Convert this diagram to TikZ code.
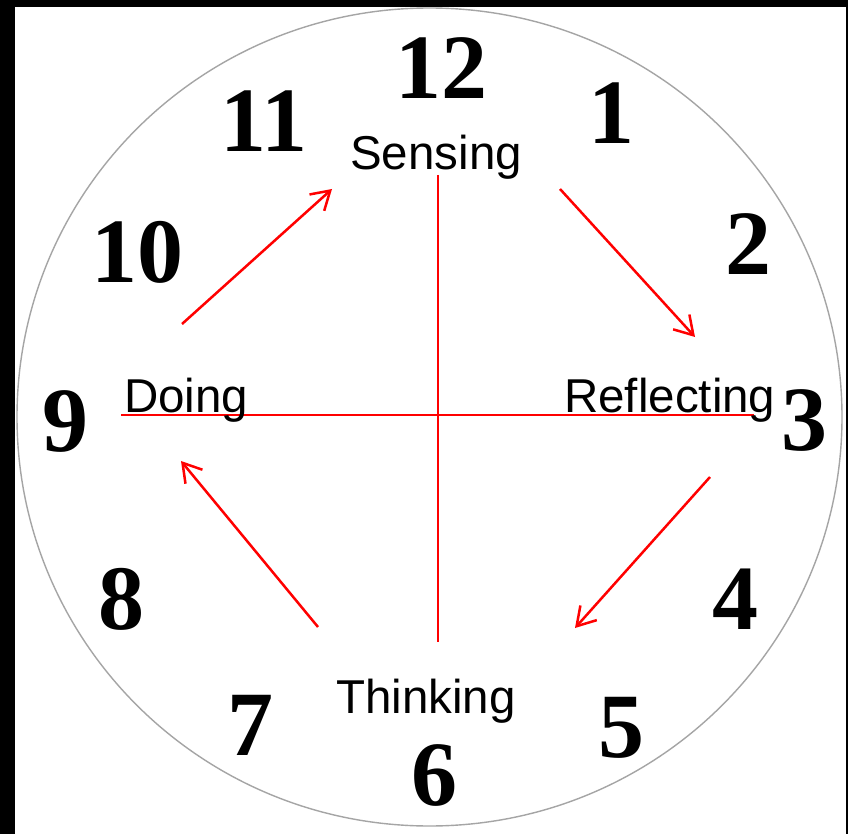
\documentclass[tikz,border=0pt]{standalone}
\usepackage{fontspec}
\setmainfont{Liberation Sans}
\newfontfamily\numfont{Liberation Serif}
\usetikzlibrary{arrows.meta}
\tikzset{
  num/.style={inner sep=0pt, font=\numfont\bfseries\fontsize{92}{92}\selectfont},
  lbl/.style={inner sep=0pt, anchor=base west, font=\fontsize{47.5}{47.5}\selectfont},
  axis/.style={draw=red, line width=2.5pt},
  flow/.style={draw=red, line width=2.5pt, -{Straight Barb[length=18pt,width=22pt,line width=2.5pt]}}
}
\begin{document}
\begin{tikzpicture}[x=1pt,y=-1pt]
\useasboundingbox (0,0) rectangle (848,834);
\fill[black] (0,0) rectangle (848,834);
\fill[white] (15,7) rectangle (846,834);
\draw[draw={rgb,255:red,165;green,165;blue,165}, line width=1.4pt] (429.5,417) ellipse [x radius=412.5, y radius=409];
% numerals
\node[num] (n12) at (441,68) {12};
\node[num] (n1) at (611,113) {1};
\node[num] (n2) at (748,244) {2};
\node[num] (n3) at (804,420) {3};
\node[num] (n4) at (735,599) {4};
\node[num] (n5) at (621,728) {5};
\node[num] (n6) at (434,775) {6};
\node[num] (n7) at (250,725) {7};
\node[num] (n8) at (121,599) {8};
\node[num] (n9) at (65,421) {9};
\node[num] (n10) at (137,252) {10};
\node[num] (n11) at (264,121) {11};
% axes
\coordinate (hl) at (121,415);
\coordinate (hr) at (754,415);
\coordinate (vt) at (438,175);
\coordinate (vb) at (438,642);
\draw[axis] (hl) -- (hr);
\draw[axis] (vt) -- (vb);
% labels
\node[lbl] (sensing) at (350,170) {Sensing};
\node[lbl] (doing) at (124,412) {Doing};
\node[lbl] (reflecting) at (564,412) {Reflecting};
\node[lbl] (thinking) at (336,713) {Thinking};
% arrows
\coordinate (a1s) at (182,324);
\coordinate (a1e) at (332,189);
\coordinate (a2s) at (560,189);
\coordinate (a2e) at (695,337);
\coordinate (a3s) at (710,477);
\coordinate (a3e) at (575,628);
\coordinate (a4s) at (318,627);
\coordinate (a4e) at (181,461);
\draw[flow] (a1s) -- (a1e);
\draw[flow] (a2s) -- (a2e);
\draw[flow] (a3s) -- (a3e);
\draw[flow] (a4s) -- (a4e);
\end{tikzpicture}
\end{document}
